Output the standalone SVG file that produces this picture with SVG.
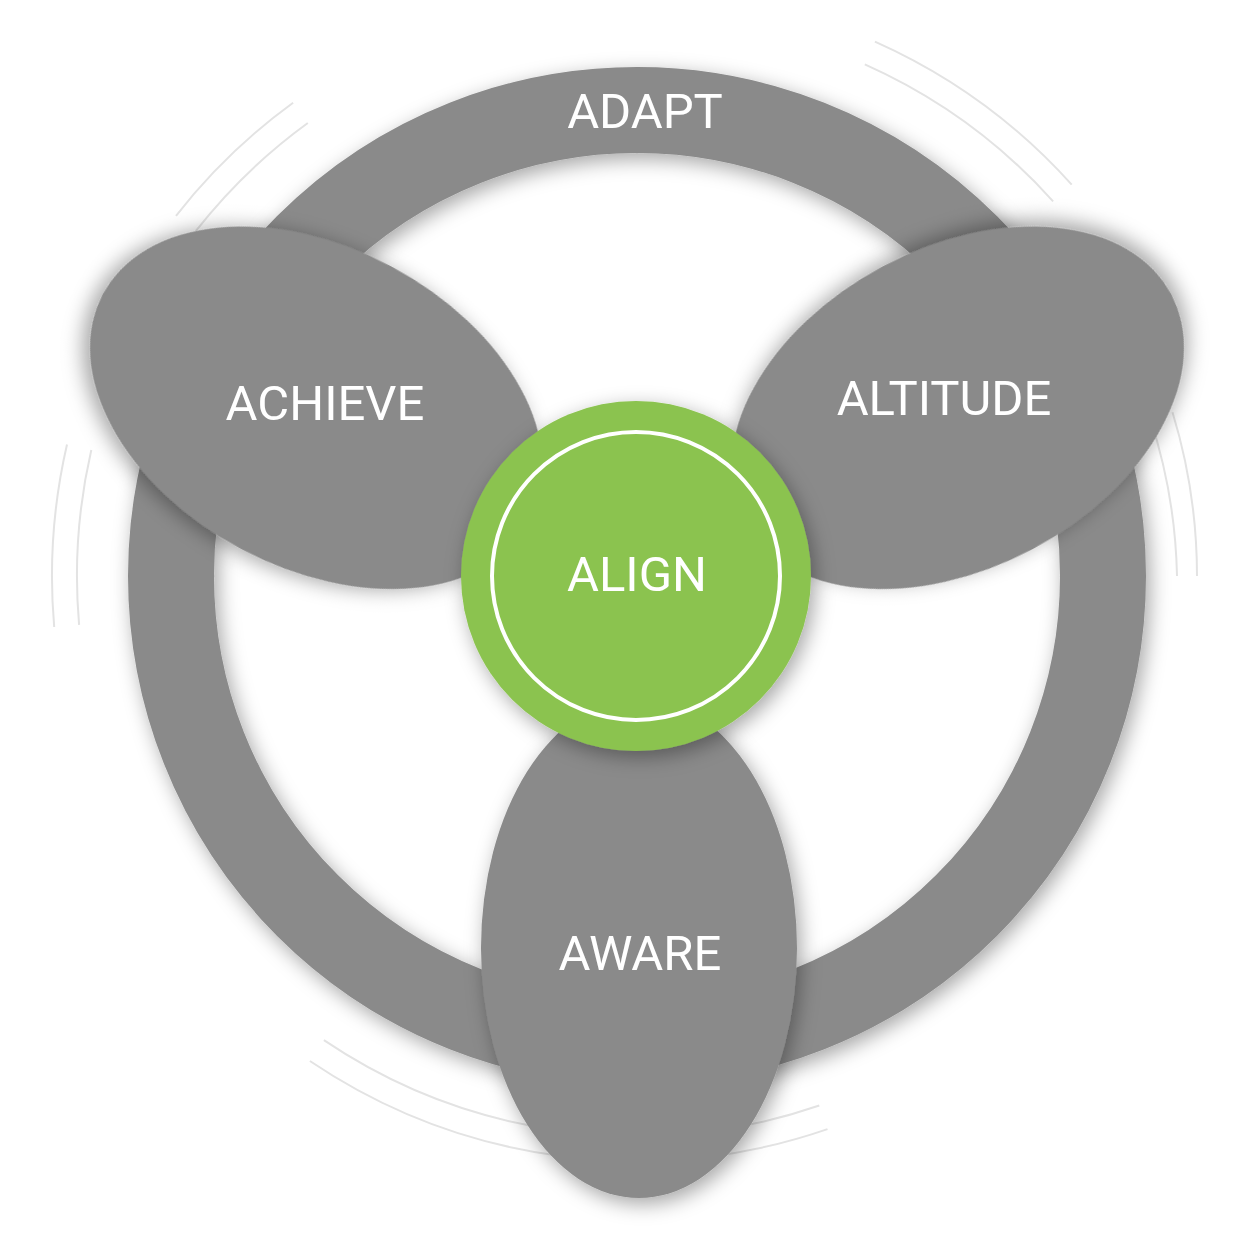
<svg xmlns="http://www.w3.org/2000/svg" width="1250" height="1250" viewBox="0 0 1250 1250">
<style>
.arc{fill:none;stroke:#e3e3e3;stroke-width:2}
.petal{fill:#8a8a8a;filter:url(#sh)}
.lbl{font-family:Roboto,"Liberation Sans",sans-serif;font-size:49px;fill:#fff;text-anchor:middle}
</style>
<defs>
<filter id="sh" x="-30%" y="-30%" width="160%" height="160%">
<feDropShadow dx="4" dy="6" stdDeviation="10" flood-color="#000" flood-opacity="0.35"/>
</filter>
</defs>
<rect width="1250" height="1250" fill="#fff"/>
<g id="arcs">
<path class="arc" d="M79.1,624.8 A560,560 0 0 1 91.3,450"/>
<path class="arc" d="M54.2,627 A585,585 0 0 1 67,444.4"/>
<path class="arc" d="M195.7,231.2 A560,560 0 0 1 307.8,123"/>
<path class="arc" d="M176,215.8 A585,585 0 0 1 293.1,102.7"/>
<path class="arc" d="M864.8,64.4 A560,560 0 0 1 1053.1,201.3"/>
<path class="arc" d="M874.9,41.6 A585,585 0 0 1 1071.7,184.6"/>
<path class="arc" d="M1150,418 A540,540 0 0 1 1177,576"/>
<path class="arc" d="M1172.5,412.3 A560,560 0 0 1 1197,576"/>
<path class="arc" d="M819.3,1105.5 A560,560 0 0 1 323.9,1040.2"/>
<path class="arc" d="M827.5,1129.1 A585,585 0 0 1 309.9,1061"/>
</g>
<g id="adapt">
<circle cx="637" cy="576" r="466" fill="none" stroke="#8a8a8a" stroke-width="86" filter="url(#sh)"/>
<text class="lbl" x="645" y="128">ADAPT</text>
</g>
<g id="aware">
<ellipse class="petal" cx="639" cy="948" rx="158" ry="250"/>
<text class="lbl" x="640" y="970">AWARE</text>
</g>
<g id="achieve">
<ellipse class="petal" cx="639" cy="938" rx="160" ry="242" transform="rotate(118 637 576)"/>
<text class="lbl" x="325" y="420">ACHIEVE</text>
</g>
<g id="altitude">
<ellipse class="petal" cx="635" cy="938" rx="160" ry="242" transform="rotate(-118 637 576)"/>
<text class="lbl" x="944" y="415">ALTITUDE</text>
</g>
<g id="align">
<circle cx="636" cy="576" r="175" fill="#8bc34f" filter="url(#sh)"/>
<circle cx="636" cy="576" r="144" fill="#8bc34f" stroke="#fff" stroke-width="4"/>
<text class="lbl" x="637" y="591">ALIGN</text>
</g>
<g id="connectors"/>
</svg>
